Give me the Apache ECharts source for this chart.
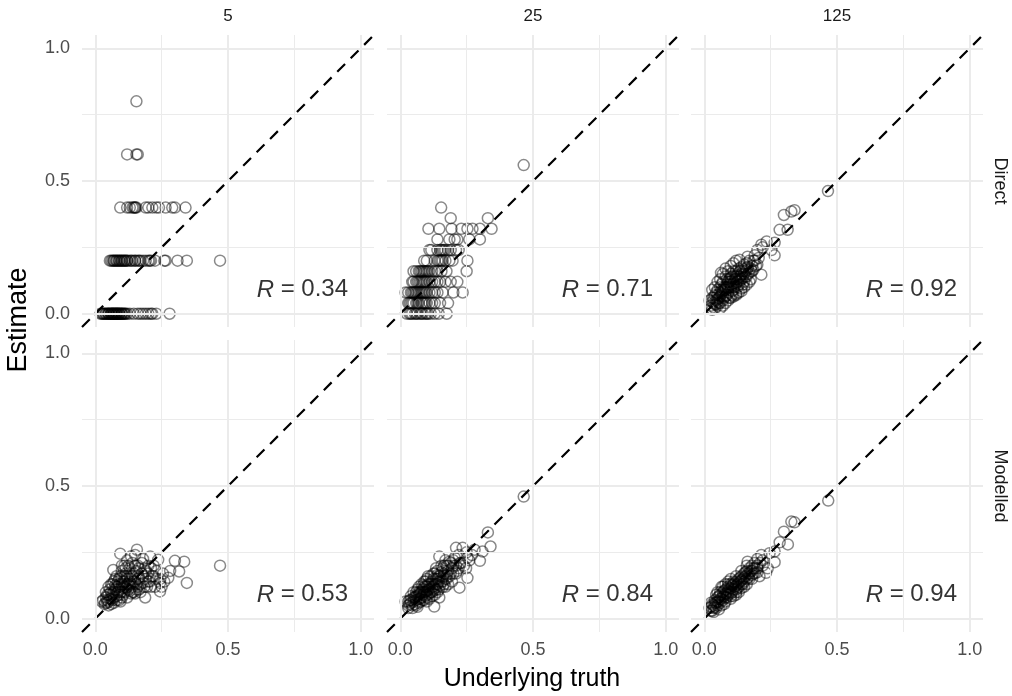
<!DOCTYPE html>
<html>
<head>
<meta charset="utf-8">
<script src="https://cdn.jsdelivr.net/npm/echarts@6/dist/echarts.min.js"></script>
<style>
  html, body { margin: 0; padding: 0; background: #fff; }
  #chart { width: 1012px; height: 696px; }
</style>
</head>
<body>
<div id="chart"></div>
<script>
// facet labels
const sampleSizes = ['5', '25', '125'];
const methods = ['Direct', 'Modelled'];
const rValues = ['0.34', '0.71', '0.92', '0.53', '0.84', '0.94'];

// axis ticks / grid lines
const labelTicks = [0, 0.5, 1];
const majorGrid = [0, 0.5, 1];
const minorGrid = [0.25, 0.75];
const axisLimits = [-0.05, 1.05];

// Direct, n = 5 : estimate level -> truth values
const direct5Rows = [
  [0.0, [0.02, 0.025, 0.03, 0.03, 0.035, 0.04, 0.04, 0.045, 0.05, 0.05, 0.05, 0.055, 0.06, 0.06, 0.06, 0.065, 0.065, 0.07, 0.07, 0.07, 0.075, 0.075,
         0.08, 0.08, 0.08, 0.085, 0.085, 0.09, 0.09, 0.09, 0.095, 0.1, 0.1, 0.1, 0.105, 0.11, 0.11, 0.115, 0.12, 0.13, 0.145, 0.16, 0.17, 0.18,
         0.19, 0.2, 0.21, 0.215, 0.23, 0.28]],
  [0.2, [0.055, 0.06, 0.065, 0.07, 0.07, 0.075, 0.08, 0.08, 0.085, 0.09, 0.09, 0.095, 0.1, 0.1, 0.105, 0.11, 0.11, 0.115, 0.12, 0.12, 0.13,
         0.135, 0.14, 0.15, 0.15, 0.16, 0.165, 0.17, 0.18, 0.19, 0.2, 0.205, 0.21, 0.225, 0.26, 0.265, 0.31, 0.345, 0.47]],
  [0.4, [0.094, 0.12, 0.13, 0.14, 0.145, 0.15, 0.15, 0.155, 0.19, 0.2, 0.215, 0.23, 0.24, 0.265, 0.29, 0.3, 0.34]],
  [0.6, [0.12, 0.155, 0.16]],
  [0.8, [0.155]]
];

// Direct, n = 25
const direct25Rows = [
  [0.0, [0.025, 0.035, 0.04, 0.045, 0.055, 0.06, 0.065, 0.075, 0.08, 0.085, 0.095, 0.1, 0.105, 0.115, 0.13, 0.145, 0.175]],
  [0.04, [0.03, 0.035, 0.04, 0.045, 0.05, 0.06, 0.065, 0.07, 0.08, 0.085, 0.09, 0.095, 0.1, 0.11, 0.12, 0.13, 0.15, 0.18]],
  [0.08, [0.02, 0.03, 0.04, 0.045, 0.05, 0.055, 0.06, 0.065, 0.07, 0.075, 0.08, 0.085, 0.09, 0.095, 0.1, 0.11, 0.12, 0.13, 0.14, 0.16, 0.2, 0.235]],
  [0.12, [0.045, 0.05, 0.06, 0.065, 0.07, 0.075, 0.08, 0.085, 0.09, 0.095, 0.1, 0.11, 0.12, 0.13, 0.14, 0.15, 0.17, 0.19, 0.215]],
  [0.16, [0.05, 0.06, 0.07, 0.075, 0.08, 0.085, 0.09, 0.095, 0.1, 0.105, 0.11, 0.12, 0.13, 0.14, 0.155, 0.174, 0.25]],
  [0.2, [0.09, 0.1, 0.13, 0.14, 0.145, 0.15, 0.155, 0.16, 0.17, 0.185, 0.197, 0.253]],
  [0.24, [0.11, 0.117, 0.14, 0.15, 0.155, 0.16, 0.165, 0.17, 0.18, 0.19, 0.21, 0.22]],
  [0.28, [0.14, 0.185, 0.205, 0.215, 0.26, 0.3]],
  [0.32, [0.106, 0.147, 0.193, 0.23, 0.253, 0.272, 0.3, 0.344]],
  [0.36, [0.19, 0.33]],
  [0.4, [0.154]],
  [0.56, [0.465]]
];

// Direct, n = 125  [truth, estimate]
const direct125 = [
  [0.02, 0.05], [0.025, 0.03], [0.03, 0.015], [0.03, 0.06], [0.035, 0.04], [0.04, 0.02], [0.04, 0.07], [0.045, 0.05],
  [0.05, 0.03], [0.05, 0.09], [0.055, 0.06], [0.06, 0.04], [0.06, 0.1], [0.065, 0.075], [0.07, 0.05], [0.07, 0.12],
  [0.075, 0.09], [0.08, 0.065], [0.08, 0.14], [0.085, 0.1], [0.09, 0.08], [0.09, 0.12], [0.095, 0.06], [0.1, 0.1],
  [0.1, 0.135], [0.105, 0.085], [0.11, 0.115], [0.11, 0.16], [0.115, 0.1], [0.12, 0.13], [0.12, 0.075], [0.125, 0.145],
  [0.13, 0.11], [0.13, 0.17], [0.135, 0.125], [0.14, 0.095], [0.14, 0.15], [0.145, 0.135], [0.15, 0.12], [0.15, 0.185],
  [0.155, 0.16], [0.16, 0.14], [0.165, 0.175], [0.17, 0.155], [0.17, 0.2], [0.175, 0.13], [0.18, 0.18], [0.185, 0.165],
  [0.19, 0.2], [0.19, 0.22], [0.2, 0.185], [0.2, 0.24], [0.205, 0.21], [0.215, 0.26], [0.215, 0.147], [0.22, 0.25],
  [0.235, 0.272], [0.253, 0.24], [0.265, 0.267], [0.265, 0.22], [0.163, 0.215], [0.133, 0.203], [0.063, 0.154], [0.18, 0.16],
  [0.284, 0.316], [0.314, 0.316], [0.3, 0.372], [0.328, 0.385], [0.34, 0.39], [0.466, 0.462],
  [0.045, 0.08], [0.055, 0.04], [0.065, 0.11], [0.075, 0.06], [0.085, 0.13], [0.095, 0.11], [0.105, 0.07], [0.115, 0.14],
  [0.125, 0.1], [0.135, 0.16], [0.145, 0.11], [0.155, 0.14], [0.06, 0.065], [0.08, 0.09], [0.1, 0.12], [0.12, 0.115],
  [0.14, 0.13], [0.07, 0.085], [0.09, 0.1], [0.11, 0.09], [0.035, 0.06], [0.05, 0.055], [0.16, 0.19], [0.175, 0.17],
  [0.12, 0.16], [0.1, 0.15], [0.085, 0.07], [0.13, 0.14], [0.15, 0.15], [0.04, 0.035],
  [0.03, 0.09], [0.04, 0.1], [0.05, 0.12], [0.06, 0.13], [0.07, 0.15], [0.08, 0.17], [0.09, 0.16], [0.1, 0.18],
  [0.11, 0.19], [0.12, 0.2], [0.06, 0.02], [0.07, 0.03], [0.08, 0.04], [0.09, 0.05], [0.1, 0.06], [0.11, 0.065],
  [0.12, 0.07], [0.13, 0.08], [0.14, 0.085], [0.15, 0.1], [0.16, 0.11], [0.17, 0.12], [0.05, 0.07], [0.065, 0.09],
  [0.075, 0.1], [0.085, 0.11], [0.095, 0.13], [0.105, 0.14], [0.115, 0.13], [0.125, 0.12], [0.135, 0.14], [0.145, 0.16],
  [0.155, 0.17], [0.165, 0.15], [0.185, 0.2], [0.195, 0.18], [0.08, 0.1], [0.1, 0.11], [0.12, 0.14], [0.09, 0.095],
  [0.11, 0.1], [0.13, 0.13], [0.07, 0.065], [0.06, 0.08], [0.05, 0.045], [0.045, 0.035], [0.03, 0.045], [0.025, 0.02],
  [0.14, 0.175], [0.16, 0.165]
];

// Modelled, n = 5
const modelled5 = [
  [0.47, 0.2], [0.345, 0.135], [0.335, 0.215], [0.3, 0.218], [0.316, 0.178], [0.282, 0.18], [0.275, 0.154], [0.244, 0.135],
  [0.244, 0.103], [0.188, 0.08], [0.157, 0.26], [0.15, 0.24], [0.094, 0.245], [0.207, 0.234], [0.237, 0.222], [0.068, 0.184],
  [0.038, 0.06], [0.025, 0.065],
  [0.03, 0.07], [0.035, 0.055], [0.04, 0.08], [0.045, 0.06], [0.05, 0.09], [0.05, 0.065], [0.055, 0.11], [0.06, 0.075],
  [0.06, 0.13], [0.065, 0.095], [0.07, 0.06], [0.07, 0.14], [0.075, 0.11], [0.08, 0.085], [0.08, 0.16], [0.085, 0.12],
  [0.09, 0.07], [0.09, 0.15], [0.095, 0.1], [0.1, 0.13], [0.1, 0.18], [0.105, 0.09], [0.11, 0.14], [0.11, 0.2],
  [0.115, 0.115], [0.12, 0.16], [0.12, 0.08], [0.125, 0.13], [0.13, 0.19], [0.13, 0.105], [0.135, 0.15], [0.14, 0.12],
  [0.14, 0.21], [0.145, 0.17], [0.15, 0.095], [0.15, 0.14], [0.155, 0.18], [0.16, 0.12], [0.16, 0.2], [0.165, 0.155],
  [0.17, 0.1], [0.175, 0.17], [0.18, 0.135], [0.185, 0.19], [0.19, 0.15], [0.195, 0.12], [0.2, 0.17], [0.205, 0.14],
  [0.21, 0.19], [0.22, 0.16], [0.225, 0.12], [0.23, 0.15], [0.06, 0.1], [0.07, 0.08], [0.08, 0.12], [0.09, 0.11],
  [0.1, 0.1], [0.11, 0.12], [0.12, 0.13], [0.13, 0.14], [0.14, 0.16], [0.1, 0.155], [0.085, 0.14], [0.115, 0.17],
  [0.125, 0.2], [0.095, 0.065], [0.065, 0.07], [0.045, 0.09], [0.155, 0.13], [0.175, 0.21], [0.135, 0.095], [0.105, 0.115],
  [0.075, 0.125],
  [0.04, 0.1], [0.05, 0.12], [0.055, 0.075], [0.065, 0.13], [0.07, 0.1], [0.075, 0.15], [0.08, 0.07], [0.085, 0.1],
  [0.09, 0.13], [0.095, 0.16], [0.1, 0.08], [0.105, 0.14], [0.11, 0.1], [0.115, 0.19], [0.12, 0.15], [0.125, 0.11],
  [0.13, 0.16], [0.135, 0.13], [0.14, 0.1], [0.145, 0.14], [0.15, 0.2], [0.155, 0.11], [0.16, 0.15], [0.165, 0.19],
  [0.17, 0.13], [0.18, 0.16], [0.185, 0.12], [0.19, 0.18], [0.2, 0.14], [0.21, 0.12], [0.215, 0.16], [0.23, 0.18],
  [0.245, 0.15], [0.255, 0.17], [0.26, 0.14], [0.18, 0.225], [0.12, 0.22], [0.135, 0.235], [0.1, 0.2], [0.06, 0.055],
  [0.05, 0.05], [0.045, 0.07], [0.09, 0.09], [0.11, 0.16], [0.13, 0.125], [0.145, 0.1], [0.165, 0.11], [0.2, 0.2],
  [0.22, 0.2], [0.25, 0.12]
];

// Modelled, n = 25
const modelled25 = [
  [0.465, 0.46], [0.33, 0.325], [0.34, 0.272], [0.3, 0.218], [0.31, 0.253], [0.28, 0.26], [0.235, 0.267], [0.21, 0.267],
  [0.253, 0.23], [0.248, 0.19], [0.253, 0.154], [0.147, 0.234], [0.128, 0.046], [0.147, 0.08], [0.223, 0.117],
  [0.02, 0.065], [0.03, 0.05], [0.035, 0.07], [0.04, 0.06], [0.046, 0.04], [0.05, 0.08], [0.055, 0.055], [0.06, 0.1],
  [0.06, 0.07], [0.065, 0.085], [0.07, 0.12], [0.07, 0.06], [0.075, 0.1], [0.08, 0.08], [0.08, 0.13], [0.085, 0.11],
  [0.09, 0.07], [0.09, 0.14], [0.095, 0.12], [0.1, 0.09], [0.1, 0.15], [0.105, 0.11], [0.11, 0.13], [0.11, 0.075],
  [0.115, 0.16], [0.12, 0.1], [0.12, 0.14], [0.125, 0.12], [0.13, 0.17], [0.13, 0.09], [0.135, 0.15], [0.14, 0.13],
  [0.14, 0.18], [0.145, 0.11], [0.15, 0.16], [0.155, 0.14], [0.16, 0.19], [0.16, 0.12], [0.165, 0.17], [0.17, 0.15],
  [0.175, 0.2], [0.18, 0.18], [0.18, 0.13], [0.185, 0.16], [0.19, 0.21], [0.195, 0.19], [0.2, 0.17], [0.205, 0.23],
  [0.21, 0.2], [0.215, 0.18], [0.22, 0.24], [0.225, 0.21], [0.05, 0.1], [0.065, 0.045], [0.075, 0.075], [0.085, 0.09],
  [0.095, 0.1], [0.105, 0.13], [0.115, 0.1], [0.125, 0.15], [0.135, 0.11], [0.145, 0.14], [0.155, 0.2], [0.165, 0.13],
  [0.04, 0.085], [0.03, 0.065], [0.11, 0.11], [0.09, 0.1], [0.12, 0.12], [0.1, 0.12], [0.07, 0.09], [0.14, 0.15],
  [0.16, 0.155], [0.185, 0.215], [0.2, 0.22], [0.175, 0.165], [0.135, 0.13], [0.075, 0.065], [0.17, 0.22], [0.1, 0.065],
  [0.04, 0.07], [0.05, 0.065], [0.06, 0.085], [0.065, 0.11], [0.07, 0.075], [0.08, 0.1], [0.085, 0.07], [0.09, 0.12],
  [0.095, 0.085], [0.1, 0.105], [0.105, 0.16], [0.11, 0.095], [0.115, 0.13], [0.12, 0.085], [0.125, 0.17], [0.13, 0.115],
  [0.135, 0.19], [0.14, 0.1], [0.145, 0.16], [0.15, 0.125], [0.155, 0.175], [0.16, 0.14], [0.165, 0.2], [0.17, 0.12],
  [0.175, 0.15], [0.18, 0.2], [0.19, 0.17], [0.195, 0.14], [0.2, 0.2], [0.21, 0.17], [0.22, 0.19], [0.23, 0.21],
  [0.24, 0.2], [0.25, 0.25], [0.26, 0.22], [0.27, 0.24], [0.03, 0.04], [0.035, 0.055], [0.045, 0.05], [0.055, 0.08],
  [0.075, 0.095], [0.085, 0.125], [0.095, 0.14], [0.125, 0.105], [0.14, 0.165], [0.1, 0.08], [0.07, 0.1], [0.06, 0.05]
];

// Modelled, n = 125
const modelled125 = [
  [0.02, 0.04], [0.025, 0.06], [0.03, 0.03], [0.035, 0.05], [0.04, 0.07], [0.04, 0.045], [0.045, 0.06], [0.05, 0.08],
  [0.05, 0.05], [0.055, 0.065], [0.06, 0.09], [0.06, 0.06], [0.065, 0.075], [0.07, 0.1], [0.07, 0.07], [0.075, 0.085],
  [0.08, 0.11], [0.08, 0.08], [0.085, 0.095], [0.09, 0.12], [0.09, 0.09], [0.095, 0.1], [0.1, 0.115], [0.1, 0.095],
  [0.105, 0.125], [0.11, 0.11], [0.11, 0.13], [0.115, 0.12], [0.12, 0.14], [0.12, 0.11], [0.125, 0.13], [0.13, 0.15],
  [0.13, 0.12], [0.135, 0.14], [0.14, 0.16], [0.14, 0.13], [0.145, 0.15], [0.15, 0.17], [0.15, 0.14], [0.155, 0.16],
  [0.16, 0.18], [0.165, 0.17], [0.17, 0.19], [0.175, 0.18], [0.18, 0.2], [0.185, 0.19], [0.19, 0.21], [0.2, 0.2],
  [0.065, 0.12], [0.09, 0.14], [0.045, 0.09], [0.11, 0.085], [0.13, 0.1], [0.15, 0.12], [0.17, 0.15], [0.055, 0.035],
  [0.035, 0.025], [0.025, 0.045], [0.075, 0.055], [0.1, 0.075], [0.12, 0.09], [0.08, 0.13], [0.06, 0.1],
  [0.467, 0.445], [0.34, 0.363], [0.328, 0.366], [0.3, 0.328], [0.284, 0.288], [0.315, 0.28], [0.265, 0.253], [0.246, 0.247],
  [0.215, 0.24], [0.265, 0.213], [0.239, 0.19], [0.233, 0.173], [0.163, 0.215], [0.208, 0.16], [0.22, 0.22], [0.2, 0.225],
  [0.19, 0.17], [0.18, 0.165],
  [0.03, 0.055], [0.04, 0.06], [0.05, 0.065], [0.06, 0.075], [0.07, 0.085], [0.08, 0.095], [0.09, 0.105], [0.1, 0.13],
  [0.11, 0.14], [0.12, 0.125], [0.13, 0.135], [0.14, 0.145], [0.15, 0.155], [0.16, 0.15], [0.17, 0.17], [0.18, 0.18],
  [0.19, 0.19], [0.21, 0.21], [0.05, 0.1], [0.07, 0.12], [0.09, 0.13], [0.1, 0.15], [0.12, 0.16], [0.14, 0.18],
  [0.16, 0.2], [0.08, 0.065], [0.1, 0.085], [0.12, 0.1], [0.14, 0.115], [0.16, 0.13], [0.18, 0.15], [0.2, 0.175],
  [0.065, 0.05], [0.045, 0.04], [0.035, 0.04], [0.025, 0.03], [0.085, 0.08], [0.105, 0.1], [0.125, 0.115], [0.145, 0.13],
  [0.165, 0.155], [0.185, 0.17], [0.095, 0.115], [0.115, 0.135], [0.135, 0.155], [0.155, 0.175], [0.075, 0.105], [0.055, 0.085],
  [0.2, 0.19], [0.22, 0.2]
];

const flattenRows = rows => rows.flatMap(([est, xs]) => xs.map(x => [x, est]));
const panels = [
  flattenRows(direct5Rows), flattenRows(direct25Rows), direct125,
  modelled5, modelled25, modelled125
];

// layout (px)
const gridLefts = [82, 387, 691];
const gridTops = [35, 340];
const panelW = 292, panelH = 292;
const labelPos = [0.78, 0.09];
const font = 'Liberation Sans, Arial, sans-serif';

const chart = echarts.init(document.getElementById('chart'), null, { renderer: 'canvas' });

const grids = [], xAxes = [], yAxes = [], series = [];
panels.forEach((pts, i) => {
  const row = Math.floor(i / 3), col = i % 3;
  grids.push({ left: gridLefts[col], top: gridTops[row], width: panelW, height: panelH });
  xAxes.push({
    gridIndex: i, type: 'value', min: axisLimits[0], max: axisLimits[1],
    axisLine: { show: false }, axisTick: { show: false }, splitLine: { show: false },
    axisLabel: {
      show: row === 1, customValues: labelTicks, margin: 9,
      formatter: v => v.toFixed(1), color: '#4D4D4D', fontSize: 18, fontFamily: font
    }
  });
  yAxes.push({
    gridIndex: i, type: 'value', min: axisLimits[0], max: axisLimits[1],
    axisLine: { show: false }, axisTick: { show: false }, splitLine: { show: false },
    axisLabel: {
      show: col === 0, customValues: labelTicks, margin: 12,
      formatter: v => v.toFixed(1), color: '#4D4D4D', fontSize: 18, fontFamily: font
    }
  });

  const gridLines = [];
  majorGrid.forEach(v => {
    gridLines.push({ xAxis: v, lineStyle: { width: 2 } });
    gridLines.push({ yAxis: v, lineStyle: { width: 2 } });
  });
  minorGrid.forEach(v => {
    gridLines.push({ xAxis: v, lineStyle: { width: 1 } });
    gridLines.push({ yAxis: v, lineStyle: { width: 1 } });
  });

  series.push({
    type: 'line', xAxisIndex: i, yAxisIndex: i, data: [], z: 1, silent: true,
    markLine: {
      silent: true, symbol: ['none', 'none'], label: { show: false }, animation: false,
      lineStyle: { color: '#EBEBEB', type: 'solid' },
      data: gridLines
    }
  });
  series.push({
    type: 'scatter', xAxisIndex: i, yAxisIndex: i, data: pts, z: 3,
    symbol: 'circle', symbolSize: 11, silent: true,
    itemStyle: { color: 'rgba(0,0,0,0)', borderColor: 'rgba(0,0,0,0.58)', borderWidth: 1.5 }
  });
  series.push({
    type: 'line', xAxisIndex: i, yAxisIndex: i, z: 4, silent: true,
    data: axisLimits.map(v => [v, v]), symbol: 'none',
    lineStyle: { color: '#000', width: 2.2, type: [11, 8] }
  });
  series.push({
    type: 'scatter', xAxisIndex: i, yAxisIndex: i, z: 5, silent: true,
    data: [labelPos], symbolSize: 0,
    label: {
      show: true, position: 'inside', formatter: '{r|R} = ' + rValues[i],
      fontSize: 24, fontFamily: font, color: '#000',
      rich: { r: { fontStyle: 'italic', fontSize: 24, fontFamily: font, color: '#000' } }
    }
  });
});

const graphics = [];
sampleSizes.forEach((s, c) => {
  graphics.push({
    type: 'text', x: gridLefts[c] + panelW / 2, y: 16,
    style: { text: s, fill: '#1A1A1A', font: '17px ' + font, align: 'center', verticalAlign: 'middle' }
  });
});
methods.forEach((m, r) => {
  graphics.push({
    type: 'text', x: 1000, y: gridTops[r] + panelH / 2, rotation: -Math.PI / 2,
    style: { text: m, fill: '#1A1A1A', font: '18px ' + font, align: 'center', verticalAlign: 'middle' }
  });
});
graphics.push({
  type: 'text', x: 532, y: 679,
  style: { text: 'Underlying truth', fill: '#000', font: '25px ' + font, align: 'center', verticalAlign: 'middle' }
});
graphics.push({
  type: 'text', x: 19, y: 320, rotation: Math.PI / 2,
  style: { text: 'Estimate', fill: '#000', font: '27px ' + font, align: 'center', verticalAlign: 'middle' }
});

chart.setOption({
  animation: false,
  backgroundColor: '#fff',
  grid: grids,
  xAxis: xAxes,
  yAxis: yAxes,
  series: series,
  graphic: graphics
});
</script>
</body>
</html>
